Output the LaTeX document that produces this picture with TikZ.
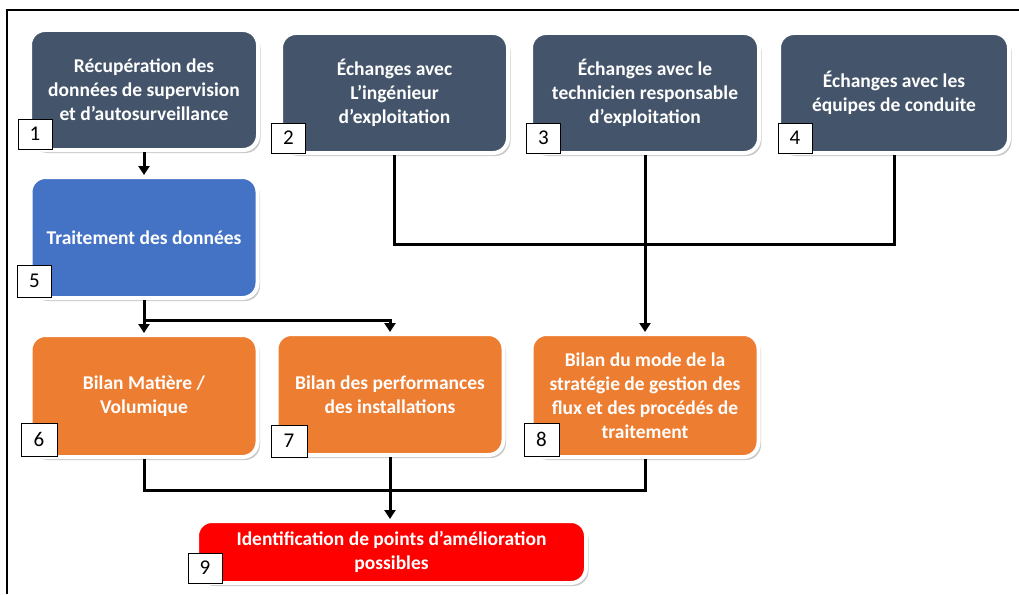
\documentclass[tikz,border=0pt]{standalone}
\usepackage{fontspec}
\setmainfont{Carlito}
\usetikzlibrary{shadows,arrows.meta,calc}
\definecolor{slate}{HTML}{44546A}
\definecolor{bleu}{HTML}{4472C4}
\definecolor{orangeb}{HTML}{ED7D31}
\definecolor{rouge}{HTML}{FF0000}
\begin{document}
\begin{tikzpicture}[x=1pt,y=-1pt,
  box/.style={rectangle,rounded corners=15pt,draw=white,line width=4pt,
    text=white,font=\fontsize{19.5}{24}\selectfont\bfseries,align=center,
    inner sep=0pt,
    drop shadow={shadow xshift=2.5pt,shadow yshift=-3pt,opacity=.35,fill=black!60}},
  numbox/.style={rectangle,draw=black,line width=0.8pt,fill=white,text=black,
    font=\fontsize{21}{22}\selectfont,minimum width=34pt,minimum height=30pt,inner sep=0pt},
  conn/.style={line width=3pt,black},
  arr/.style={conn,-{Triangle[length=9pt,width=11pt]}}
]
\useasboundingbox (0,0) rectangle (1019,594);
\draw[line width=1.5pt] (7,594) -- (7,10) -- (1019,10);

\node[box,fill=slate,minimum width=228pt,minimum height=120pt] (b1) at (144,90)
  {Récupération des\\données de supervision\\et d’autosurveillance};
\node[box,fill=slate,minimum width=227pt,minimum height=120pt] (b2) at (394.5,93)
  {Échanges avec\\L’ingénieur\\d’exploitation};
\node[box,fill=slate,minimum width=228pt,minimum height=120pt] (b3) at (645,93)
  {Échanges avec le\\technicien responsable\\d’exploitation};
\node[box,fill=slate,minimum width=230pt,minimum height=120pt] (b4) at (894,93)
  {Échanges avec les\\équipes de conduite};
\node[box,fill=bleu,minimum width=227pt,minimum height=121pt] (b5) at (144,237.5)
  {Traitement des données};
\node[box,fill=orangeb,minimum width=227pt,minimum height=122pt] (b6) at (144,396)
  {Bilan Matière /\\Volumique};
\node[box,fill=orangeb,minimum width=227pt,minimum height=121pt] (b7) at (390,394.5)
  {Bilan des performances\\des installations};
\node[box,fill=orangeb,minimum width=227pt,minimum height=123pt] (b8) at (645,395.5)
  {Bilan du mode de la\\stratégie de gestion des\\flux et des procédés de\\traitement};
\node[box,fill=rouge,minimum width=389pt,minimum height=62pt] (b9) at (391.5,552)
  {Identification de points d’amélioration\\possibles};

\node[numbox] (n1) at (35,134) {1};
\node[numbox] (n2) at (288.5,138) {2};
\node[numbox] (n3) at (543.5,138) {3};
\node[numbox] (n4) at (795,138) {4};
\node[numbox,minimum height=32pt] (n5) at (34.5,281) {5};
\node[numbox,minimum height=33pt,minimum width=36pt] (n6) at (39,439.5) {6};
\node[numbox,minimum height=32pt,minimum width=36pt] (n7) at (289,441) {7};
\node[numbox,minimum height=33pt,minimum width=35pt] (n8) at (541.5,439.5) {8};
\node[numbox] (n9) at (205,568) {9};

% connectors
\draw[arr] (b1.south) -- (b5.north);
\draw[arr] (b5.south) -- (b6.north);
\draw[arr] ($(b5.south)+(0,20)$) -| (b7.north);
\draw[conn] (b2.south) -- ++(0,89) -| (b4.south);
\draw[arr] (b3.south) -- (b8.north);
\draw[conn] (b6.south) -- ++(0,31) -| (b8.south);
\draw[arr] (b7.south) -- (b7.south |- b9.north);
\end{tikzpicture}
\end{document}
